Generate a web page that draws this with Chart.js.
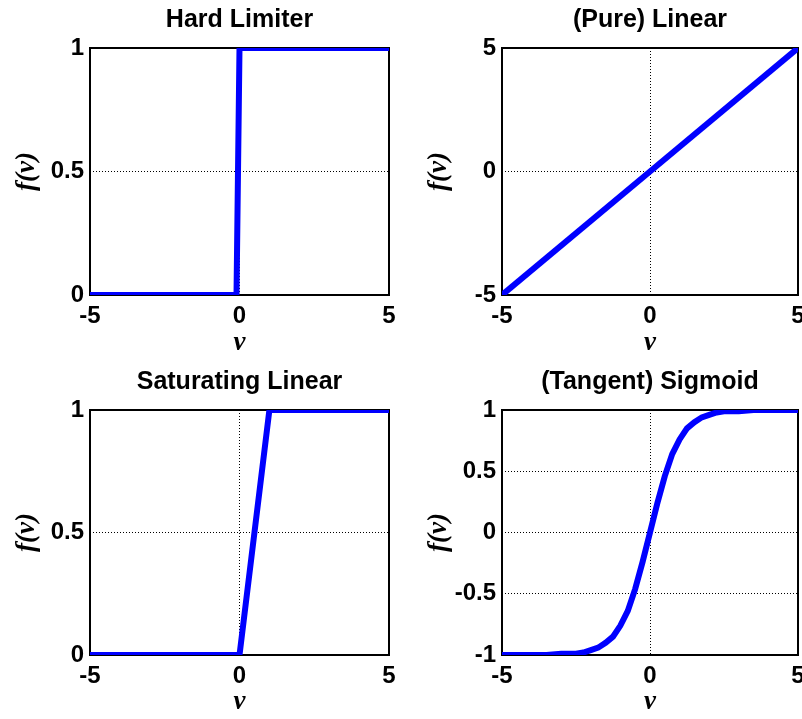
<!DOCTYPE html>
<html>
<head>
  <meta charset="UTF-8">
  <title>Activation functions</title>
  <script src="https://cdn.jsdelivr.net/npm/chart.js"></script>
  <style>
    body {
      margin: 0;
      background: #ffffff;
      width: 802px;
      height: 719px;
      overflow: hidden;
      position: relative;
    }
    .panel {
      position: absolute;
    }
  </style>
</head>
<body>
  <div class="panel" style="left:0;top:0;width:401px;height:360px"><canvas id="hardlim"></canvas></div>
  <div class="panel" style="left:412px;top:0;width:390px;height:360px"><canvas id="purelin"></canvas></div>
  <div class="panel" style="left:0;top:361px;width:401px;height:358px"><canvas id="satlin"></canvas></div>
  <div class="panel" style="left:412px;top:361px;width:390px;height:358px"><canvas id="tansig"></canvas></div>

  <script>
    // values
    const hardlimV = [-5, -0.1, 0, 5];
    const hardlimF = [0, 0, 1, 1];

    const purelinV = [-5, 0, 5];
    const purelinF = [-5, 0, 5];

    const satlinV = [-5, 0, 1, 5];
    const satlinF = [0, 0, 1, 1];

    const tansigV = [-5, -4.5, -4, -3.5, -3, -2.5, -2.25, -2, -1.75, -1.5, -1.25, -1, -0.75, -0.5, -0.25,
                     0, 0.25, 0.5, 0.75, 1, 1.25, 1.5, 1.75, 2, 2.25, 2.5, 3, 3.5, 4, 4.5, 5];
    const tansigF = [-1, -1, -1, -1, -0.99, -0.99, -0.98, -0.96, -0.94, -0.9, -0.85, -0.76, -0.64, -0.46, -0.24,
                     0, 0.24, 0.46, 0.64, 0.76, 0.85, 0.9, 0.94, 0.96, 0.98, 0.99, 0.99, 1, 1, 1, 1];

    const xTicks = [-5, 0, 5];

    const tickFont = { family: 'Liberation Sans, Arial, sans-serif', size: 24, weight: 'bold' };
    const labelFont = { family: 'Liberation Serif, Times New Roman, serif', size: 27, weight: 'bold', style: 'italic' };
    const titleFont = 'bold 25px "Liberation Sans", Arial, sans-serif';

    // closed black box round the plot area, drawn under the line
    const boxPlugin = {
      id: 'box',
      beforeDatasetsDraw(chart) {
        const a = chart.chartArea;
        const ctx = chart.ctx;
        ctx.save();
        ctx.strokeStyle = '#000';
        ctx.lineWidth = 2;
        ctx.strokeRect(a.left, a.top, a.right - a.left, a.bottom - a.top);
        ctx.restore();
      }
    };

    // title centred over the plot area, like MATLAB does
    const areaTitle = {
      id: 'areaTitle',
      afterDraw(chart, args, o) {
        const a = chart.chartArea;
        const ctx = chart.ctx;
        ctx.save();
        ctx.font = titleFont;
        ctx.fillStyle = '#000';
        ctx.textAlign = 'center';
        ctx.textBaseline = 'middle';
        ctx.fillText(o.text, (a.left + a.right) / 2, o.y);
        ctx.restore();
      }
    };

    function makePlot(id, title, xs, ys, yMin, yMax, yStep, opts) {
      new Chart(document.getElementById(id), {
        type: 'line',
        data: {
          datasets: [{
            data: xs.map((x, i) => ({ x: x, y: ys[i] })),
            borderColor: '#0000ff',
            borderWidth: 6,
            pointRadius: 0,
            tension: 0,
            fill: false
          }]
        },
        options: {
          responsive: true,
          maintainAspectRatio: false,
          animation: false,
          events: [],
          layout: { padding: { left: 0, right: opts.right, top: opts.top, bottom: 0 } },
          plugins: {
            legend: { display: false },
            tooltip: { enabled: false },
            title: { display: false },
            areaTitle: { text: title, y: opts.titleY }
          },
          scales: {
            x: {
              type: 'linear',
              min: -5,
              max: 5,
              afterBuildTicks(scale) { scale.ticks = xTicks.map(v => ({ value: v })); },
              afterFit(scale) {
                scale.height = opts.xHeight;
                scale.paddingLeft = 0;
                scale.paddingRight = 0;
              },
              ticks: { color: '#000', font: tickFont, padding: 7, maxRotation: 0, autoSkip: false },
              grid: { color: '#000', lineWidth: 1, drawTicks: false },
              border: { display: false, dash: [1, 2] },
              title: { display: true, text: 'v', color: '#000', font: labelFont, padding: { top: 0, bottom: 1 } }
            },
            y: {
              type: 'linear',
              min: yMin,
              max: yMax,
              ticks: {
                stepSize: yStep,
                color: '#000',
                font: tickFont,
                padding: 6,
                callback: v => String(v)
              },
              afterFit(scale) {
                scale.width = 90;
                scale.paddingTop = 0;
                scale.paddingBottom = 0;
              },
              grid: { color: '#000', lineWidth: 1, drawTicks: false },
              border: { display: false, dash: [1, 2] },
              title: { display: true, text: 'f(v)', color: '#000', font: labelFont, padding: { top: 11, bottom: 0 } }
            }
          }
        },
        plugins: [boxPlugin, areaTitle]
      });
    }

    const topOpts = { right: 12, top: 48, titleY: 20, xHeight: 65 };
    const topRightOpts = { right: 4, top: 48, titleY: 20, xHeight: 65 };
    const botOpts = { right: 12, top: 49, titleY: 21, xHeight: 64 };
    const botRightOpts = { right: 4, top: 49, titleY: 21, xHeight: 64 };

    makePlot('hardlim', 'Hard Limiter', hardlimV, hardlimF, 0, 1, 0.5, topOpts);
    makePlot('purelin', '(Pure) Linear', purelinV, purelinF, -5, 5, 5, topRightOpts);
    makePlot('satlin', 'Saturating Linear', satlinV, satlinF, 0, 1, 0.5, botOpts);
    makePlot('tansig', '(Tangent) Sigmoid', tansigV, tansigF, -1, 1, 0.5, botRightOpts);
  </script>
</body>
</html>
